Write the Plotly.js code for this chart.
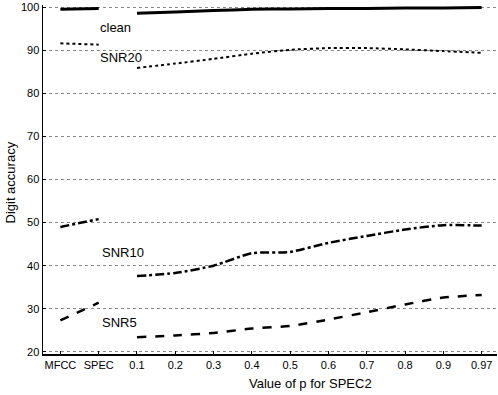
<!DOCTYPE html>
<html><head><meta charset="utf-8">
<script src="https://cdn.plot.ly/plotly-3.0.1.min.js"></script>
<style>body{margin:0;background:#fff}#chart{width:498px;height:395px}</style>
</head><body><div id="chart"></div>
<script>
const categories = ["MFCC","SPEC","0.1","0.2","0.3","0.4","0.5","0.6","0.7","0.8","0.9","0.97"];
const clean  = [99.5, 99.7, 98.6, 98.9, 99.2, 99.5, 99.6, 99.7, 99.7, 99.8, 99.8, 99.9];
const snr20  = [91.6, 91.3, 85.9, 86.9, 88.0, 89.2, 90.1, 90.5, 90.5, 90.2, 89.8, 89.4];
const snr10  = [49.0, 50.8, 37.6, 38.3, 40.0, 42.9, 43.2, 45.3, 46.9, 48.4, 49.4, 49.3];
const snr5   = [27.3, 31.4, 23.4, 23.8, 24.4, 25.4, 26.0, 27.5, 29.2, 31.0, 32.6, 33.2];
const seriesNames = ["clean","SNR20","SNR10","SNR5"];
const labelPos = [[0.98, 95.2],[0.98, 88.3],[1.03, 43.1],[1.03, 26.9]];

const idx = categories.map((c,i)=>i);
const styles = [
  {width:3, dash:"solid"},
  {width:2, dash:"dot"},
  {width:2.5, dash:"dashdot"},
  {width:2.5, dash:"dash"}
];
const allSeries = [clean, snr20, snr10, snr5];
const traces = [];
allSeries.forEach((vals,k)=>{
  traces.push({x: idx.slice(0,2), y: vals.slice(0,2), mode:"lines", line:{color:"#000", width:styles[k].width, dash:styles[k].dash}, showlegend:false, hoverinfo:"skip"});
  traces.push({x: idx.slice(2), y: vals.slice(2), mode:"lines", line:{color:"#000", width:styles[k].width, dash:styles[k].dash, shape:"spline", smoothing:0.6}, showlegend:false, hoverinfo:"skip"});
});
const annotations = seriesNames.map((n,k)=>({x:labelPos[k][0], y:labelPos[k][1], xref:"x", yref:"y", text:n, showarrow:false, xanchor:"left", yanchor:"middle", font:{size:13, color:"#000"}}));
annotations.push({xref:"paper", yref:"paper", x:0.59, y:0, yshift:-29, text:"Value of p for SPEC2", showarrow:false, xanchor:"center", yanchor:"middle", font:{size:13,color:"#000"}});
annotations.push({xref:"paper", yref:"paper", x:0, xshift:-33, y:0.5, yshift:-3, text:"Digit accuracy", textangle:-90, showarrow:false, xanchor:"center", yanchor:"middle", font:{size:13,color:"#000"}});

const layout = {
  width:498, height:395,
  margin:{l:43, r:1, t:5, b:41},
  paper_bgcolor:"#fff", plot_bgcolor:"#fff",
  font:{family:"Liberation Sans, Arial, sans-serif", color:"#000"},
  xaxis:{range:[-0.454, 11.4], tickvals:idx, ticktext:categories, showgrid:false, zeroline:false,
         showline:true, linecolor:"#000", linewidth:1.5, ticks:"inside", ticklen:3, tickcolor:"#000",
         tickfont:{size:11, color:"#000"}},
  yaxis:{range:[19.5, 100.5], tickvals:[20,30,40,50,60,70,80,90,100], showgrid:true, gridcolor:"#888", gridwidth:1, griddash:"dot",
         zeroline:false, showline:true, linecolor:"#000", linewidth:1.5, ticks:"inside", ticklen:3, tickcolor:"#000",
         tickfont:{size:11, color:"#000"}},
  annotations: annotations
};
Plotly.newPlot("chart", traces, layout, {staticPlot:true, displayModeBar:false});
</script></body></html>
